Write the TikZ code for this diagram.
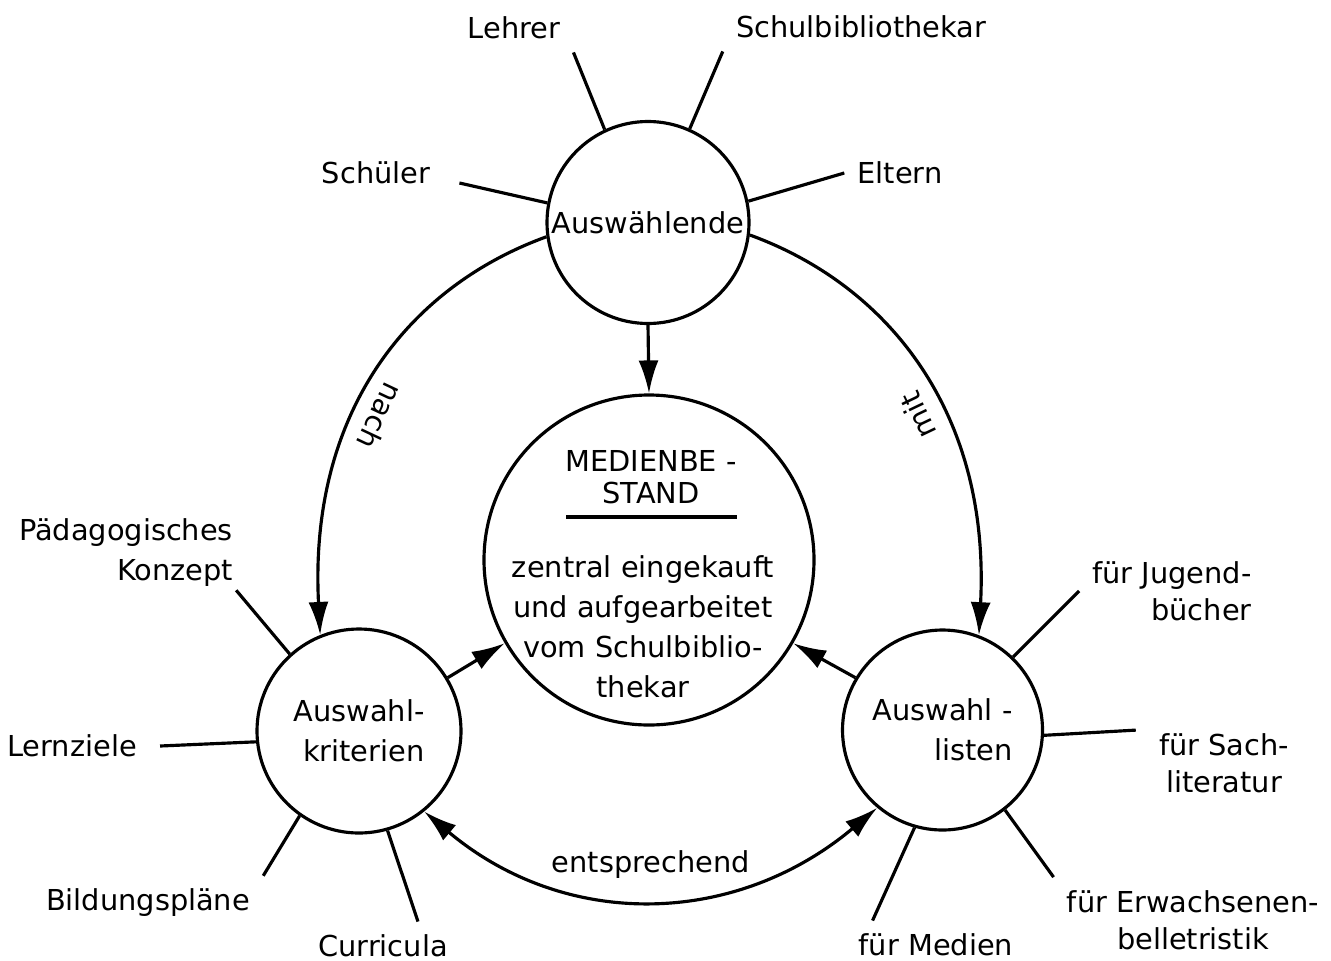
\documentclass[tikz,border=0pt]{standalone}
\usepackage{fontspec}
\setmainfont{DejaVu Sans}
\usetikzlibrary{arrows.meta}

\begin{document}
\begin{tikzpicture}[line width=0.9pt,
  every node/.style={font=\fontsize{8.2}{10.5}\selectfont},
  kreis/.style={draw, circle, inner sep=0pt},
  arr/.style={-{Latex[length=3.3mm,width=2mm]}},
  arrback/.style={{Latex[length=3.3mm,width=2mm]}-},
  arrboth/.style={{Latex[length=3.3mm,width=2mm]}-{Latex[length=3.3mm,width=2mm]}}]
  \useasboundingbox (0,0) rectangle (13.31,9.60);
  \node[kreis, minimum size=2.02cm] (aus) at (6.48,7.375) {Ausw\"ahlende};
  \node[kreis, minimum size=3.30cm] (med) at (6.49,4.00) {};
  \node[kreis, minimum size=2.04cm, align=right, font=\fontsize{8.2}{11.4}\selectfont] (kri) at (3.59,2.29) {Auswahl-\\kriterien};
  \node[kreis, minimum size=2.00cm, align=right, font=\fontsize{8.2}{11.4}\selectfont] (lis) at (9.425,2.30) {Auswahl -\\listen};
  \node[align=center, font=\fontsize{8.2}{9.1}\selectfont] (medtitel) at (6.51,4.83) {MEDIENBE -\\STAND};
  \draw (5.66,4.43) -- (7.37,4.43);
  \node[align=center, font=\fontsize{8.2}{11.4}\selectfont] (medtext) at (6.43,3.335) {zentral eingekauft\\und aufgearbeitet\\vom Schulbiblio-\\thekar};
  % Beteiligte und Kriterien
  \node (lehrer) at (5.14,9.32) {Lehrer};
  \node (schulbib) at (8.61,9.33) {Schulbibliothekar};
  \node (schueler) at (3.76,7.87) {Sch\"uler};
  \node (eltern) at (9.00,7.87) {Eltern};
  \node[align=right, font=\fontsize{8.2}{11.4}\selectfont] (paed) at (1.26,4.07) {P\"adagogisches\\Konzept};
  \node (lernziele) at (0.72,2.14) {Lernziele};
  \node (bildung) at (1.48,0.57) {Bildungspl\"ane};
  \node (curricula) at (3.83,0.14) {Curricula};
  \node[align=right] (jugend) at (11.72,3.69) {f\"ur Jugend-\\b\"ucher};
  \node[align=center] (sach) at (12.24,1.97) {f\"ur Sach-\\literatur};
  \node[align=center] (erw) at (11.93,0.40) {f\"ur Erwachsenen-\\belletristik};
  \node (medien) at (9.36,0.15) {f\"ur Medien};
  \draw (aus.115) -- (lehrer.south east);
  \draw (aus.66) -- (schulbib.south west);
  \draw (aus.169) -- ([shift={(1.6mm,-1mm)}]schueler.east);
  \draw (aus.12) -- (eltern.west);
  \draw (kri.132) -- ([shift={(-1mm,1mm)}]paed.south east);
  \draw (kri.186) -- ([xshift=1mm]lernziele.east);
  \draw (kri.235) -- (bildung.north east);
  \draw (kri.286) -- ([xshift=3.5mm]curricula.north);
  \draw (lis.46) -- (jugend.west);
  \draw (lis.357) -- ([shift={(-1mm,-1mm)}]sach.north west);
  \draw (lis.308) -- (erw.north west);
  \draw (lis.254) -- ([xshift=2.7mm]medien.north west);
  % Pfeile
  \draw[arr] (aus.south) -- (med.north);
  \draw[arr] (kri.31) -- (med.210);
  \draw[arr] (lis.149) -- (med.330);
  \draw[arr] (aus.188) .. controls +(200:1.5) and +(93:2.2) .. (kri.112)
    node[sloped, allow upside down, above, pos=0.58] (nach) {nach};
  \draw[arrback] (lis.69) .. controls +(87:2.2) and +(-20:1.5) .. (aus.353)
    node[sloped, allow upside down, above, pos=0.42] (mit) {mit};
  \draw[arrboth] (kri.309) .. controls +(-40:1.85) and +(220:1.85) .. (lis.230)
    node[above=2pt, pos=0.5] (entspr) {entsprechend};
\end{tikzpicture}
\end{document}
